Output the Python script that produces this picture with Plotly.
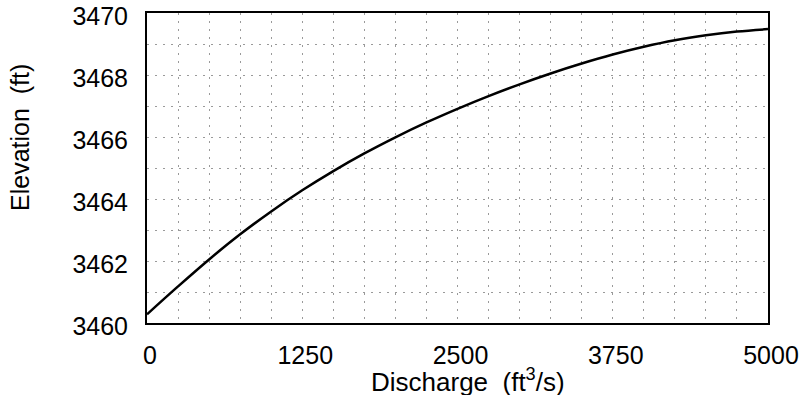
import plotly.graph_objects as go

discharge = [0, 250, 500, 750, 1000, 1250, 1500, 1750, 2000, 2250, 2500,
             2750, 3000, 3250, 3500, 3750, 4000, 4250, 4500, 4750, 5000]
elevation = [3460.28, 3461.18, 3462.05, 3462.86, 3463.60, 3464.28, 3464.90,
             3465.47, 3465.99, 3466.47, 3466.91, 3467.32, 3467.70, 3468.05,
             3468.37, 3468.66, 3468.91, 3469.12, 3469.28, 3469.40, 3469.48]

x_ticks = [0, 1250, 2500, 3750, 5000]
y_ticks = [3460, 3462, 3464, 3466, 3468, 3470]

FONT = "Liberation Sans, Arial, Helvetica, sans-serif"
GRID = dict(gridcolor="#9a9a9a", gridwidth=1, griddash="2px,6px")

fig = go.Figure()
fig.add_trace(go.Scatter(
    x=discharge, y=elevation, mode="lines",
    line=dict(color="black", width=2.5, shape="spline", smoothing=1.0),
    showlegend=False, hoverinfo="skip",
))

fig.update_layout(
    width=804, height=395,
    margin=dict(l=147, r=36, t=13, b=72, autoexpand=False),
    paper_bgcolor="white", plot_bgcolor="white",
    font=dict(family=FONT, size=25, color="black"),
    xaxis=dict(
        range=[0, 5000], tickvals=x_ticks, ticktext=[str(v) for v in x_ticks],
        showgrid=True, **GRID,
        minor=dict(dtick=250, showgrid=True, **GRID),
        showline=True, linecolor="black", linewidth=2, mirror=True,
        zeroline=False, ticks="", ticklabelstandoff=9, ticklabelshift=3,
        ticklabeloverflow="allow", automargin=False,
    ),
    yaxis=dict(
        range=[3460, 3470], tickvals=y_ticks, ticktext=[str(v) for v in y_ticks],
        showgrid=True, **GRID,
        minor=dict(dtick=1, showgrid=True, **GRID),
        showline=True, linecolor="black", linewidth=2, mirror=True,
        zeroline=False, ticks="", ticklabelstandoff=12, ticklabelshift=3,
        ticklabeloverflow="allow", automargin=False,
    ),
    annotations=[
        dict(text="Discharge\u00a0 (ft<sup>3</sup>/s)", xref="paper", yref="paper",
             x=(468 - 147) / 621, y=(323 - 380) / 310, xanchor="center", yanchor="middle",
             showarrow=False, font=dict(family=FONT, size=26)),
        dict(text="Elevation\u00a0 (ft)", xref="paper", yref="paper", textangle=-90,
             x=(20 - 147) / 621, y=(323 - 138) / 310, xanchor="center", yanchor="middle",
             showarrow=False, font=dict(family=FONT, size=25)),
    ],
)

fig.write_html("out.html", config={"displayModeBar": False},
               post_script="document.body.style.margin='0';")
